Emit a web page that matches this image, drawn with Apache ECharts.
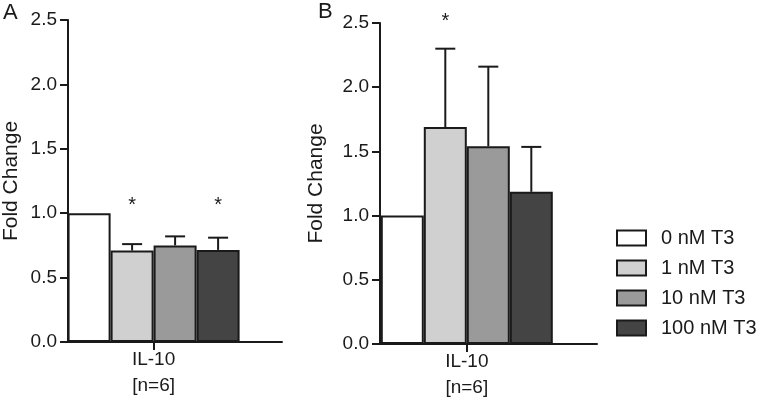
<!DOCTYPE html>
<html><head><meta charset="utf-8">
<script src="https://cdn.jsdelivr.net/npm/echarts@6/dist/echarts.min.js"></script>
<style>html,body{margin:0;padding:0;background:#fff}#c{width:761px;height:406px}</style>
</head><body><div id="c"></div>
<script>
// ---- data ----
const groups = ['0 nM T3', '1 nM T3', '10 nM T3', '100 nM T3'];
const category = 'IL-10';
const categorySub = '[n=6]';
const meanA = [1.0, 0.71, 0.75, 0.715];
const sdA = [0, 0.05, 0.07, 0.095];
const sigA = ['', '*', '', '*'];
const starLevelA = 1.06;
const meanB = [1.0, 1.69, 1.54, 1.185];
const sdB = [0, 0.61, 0.62, 0.35];
const sigB = ['', '*', '', ''];
const starLevelB = 2.51;
const yMin = 0, yMax = 2.5, yStep = 0.5;
const panelLabels = ['A', 'B'];
const yTitle = 'Fold Change';

// ---- style / layout ----
const FONT = '"Liberation Sans", Arial, Helvetica, sans-serif';
const INK = '#1a1a1a';
const fills = ['#ffffff', '#d0d0d0', '#9a9a9a', '#444444'];
const BAR_W = 43;
const CAP_W = 20;
const catPos = 2; // position of the single category on the x axis (0..5)

const chart = echarts.init(document.getElementById('c'), null, {renderer: 'canvas'});

function xAxisFor(g) {
  return {
    type: 'value', gridIndex: g, min: 0, max: 5,
    axisLine: {show: true, onZero: false, lineStyle: {color: INK, width: 2}},
    axisTick: {show: true, customValues: [catPos], length: 8, lineStyle: {color: INK, width: 2}},
    axisLabel: {customValues: [catPos], formatter: () => category + '\n' + categorySub,
      fontSize: 19, color: INK, fontFamily: FONT, lineHeight: 26, margin: 5},
    splitLine: {show: false}
  };
}
function yAxisFor(g, gap) {
  return {
    type: 'value', gridIndex: g, min: yMin, max: yMax, interval: yStep,
    axisLine: {show: true, lineStyle: {color: INK, width: 2}},
    axisTick: {show: true, length: 8, lineStyle: {color: INK, width: 2}},
    axisLabel: {formatter: v => v.toFixed(1), fontSize: 19, color: INK, fontFamily: FONT, margin: 11},
    splitLine: {show: false},
    name: yTitle, nameLocation: 'middle', nameGap: gap,
    nameTextStyle: {fontSize: 21, color: INK, fontFamily: FONT}
  };
}
function barSeries(g, means) {
  return means.map((m, i) => ({
    type: 'bar', name: groups[i], xAxisIndex: g, yAxisIndex: g,
    data: [[catPos, m]], barWidth: BAR_W, barGap: '0%',
    itemStyle: {color: fills[i], borderColor: INK, borderWidth: 2},
    emphasis: {disabled: true}, z: 2
  }));
}
function errSeries(g, means, sds, sigs, starLevel) {
  const n = means.length;
  return {
    type: 'custom', xAxisIndex: g, yAxisIndex: g, z: 5, silent: true, clip: false,
    data: means.map((m, i) => [catPos, m, sds[i], i]),
    renderItem(params, api) {
      const i = api.value(3);
      const off = (i - (n - 1) / 2) * BAR_W;
      const base = api.coord([api.value(0), api.value(1)]);
      const top = api.coord([api.value(0), api.value(1) + api.value(2)]);
      const x = base[0] + off;
      const children = [];
      if (api.value(2) > 0) {
        children.push({type: 'line', shape: {x1: x, y1: base[1], x2: x, y2: top[1]},
          style: {stroke: INK, lineWidth: 2}});
        children.push({type: 'line', shape: {x1: x - CAP_W / 2, y1: top[1], x2: x + CAP_W / 2, y2: top[1]},
          style: {stroke: INK, lineWidth: 2}});
      }
      const s = sigs[params.dataIndex];
      if (s) {
        const sp = api.coord([api.value(0), starLevel]);
        children.push({type: 'text', x: x, y: sp[1],
          style: {text: s, fontSize: 20, fontFamily: FONT, fill: INK, align: 'center', verticalAlign: 'middle'}});
      }
      return {type: 'group', children};
    }
  };
}

const option = {
  backgroundColor: '#ffffff',
  animation: false,
  textStyle: {fontFamily: FONT},
  title: [
    {text: panelLabels[0], left: 3, top: 2, padding: 0, textStyle: {fontSize: 22, fontWeight: 'normal', color: INK, fontFamily: FONT}},
    {text: panelLabels[1], left: 318, top: 1, padding: 0, textStyle: {fontSize: 22, fontWeight: 'normal', color: INK, fontFamily: FONT}}
  ],
  legend: {
    data: groups, orient: 'vertical', left: 616, top: 228, padding: 0,
    icon: 'rect', itemWidth: 29, itemHeight: 15, itemGap: 10,
    textStyle: {fontSize: 20, lineHeight: 15, color: INK, fontFamily: FONT, padding: [0, 0, 0, 10]},
    selectedMode: false
  },
  grid: [
    {left: 66, top: 20, width: 216, bottom: 64},
    {left: 380, top: 23, width: 217, bottom: 62}
  ],
  xAxis: [xAxisFor(0), xAxisFor(1)],
  yAxis: [yAxisFor(0, 46), yAxisFor(1, 53)],
  series: [
    ...barSeries(0, meanA), errSeries(0, meanA, sdA, sigA, starLevelA),
    ...barSeries(1, meanB), errSeries(1, meanB, sdB, sigB, starLevelB)
  ]
};
chart.setOption(option);
</script></body></html>
